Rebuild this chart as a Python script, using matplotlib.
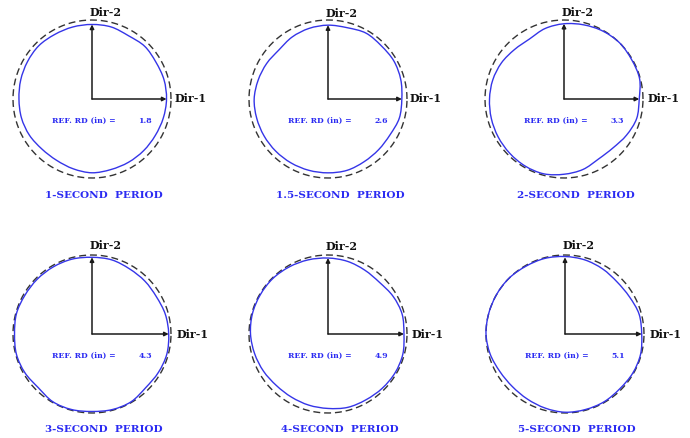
import numpy as np
import matplotlib.pyplot as plt
from matplotlib.path import Path
from matplotlib.patches import PathPatch

# response-spectrum displacement orbits, normalised by the reference RD
periods = ['1', '1.5', '2', '3', '4', '5']
ref_rd = [1.8, 2.6, 3.3, 4.3, 4.9, 5.1]
# radius of the dashed envelope circle (in units of REF. RD)
envelope = [1.06, 1.07, 1.05, 1.03, 1.04, 1.03]

angles = np.arange(0, 360, 15)
orbits = [
    [1.00, 1.00, 0.99, 1.00, 0.98, 1.00, 1.00, 1.00, 1.00, 1.01, 1.00, 0.99,
     0.98, 0.98, 0.97, 0.95, 0.95, 0.97, 0.99, 0.98, 0.98, 0.98, 0.98, 0.99],
    [1.00, 1.02, 1.03, 1.02, 1.03, 1.00, 1.00, 0.99, 0.97, 0.94, 0.96, 0.98,
     1.00, 1.00, 1.00, 1.00, 1.00, 1.00, 1.00, 1.00, 0.98, 0.97, 0.97, 1.00],
    [1.00, 1.04, 1.04, 1.05, 1.04, 1.02, 1.00, 0.97, 0.92, 0.93, 0.96, 0.98,
     0.99, 1.00, 1.01, 1.02, 1.03, 1.03, 1.00, 0.97, 0.92, 0.92, 0.96, 1.00],
    [1.00, 0.99, 0.97, 0.975, 0.98, 1.00, 1.00, 1.01, 1.01, 1.01, 1.01, 1.02,
     1.01, 1.02, 1.01, 0.99, 1.02, 1.02, 1.01, 1.02, 1.02, 0.99, 1.00, 1.01],
    [1.00, 1.01, 0.99, 0.96, 0.97, 0.99, 1.00, 1.01, 1.02, 1.03, 1.03, 1.03,
     1.02, 1.00, 0.98, 0.96, 0.96, 0.97, 0.98, 1.00, 1.00, 1.01, 1.02, 1.02],
    [1.00, 1.00, 0.97, 0.96, 0.98, 1.00, 1.01, 1.02, 1.02, 1.03, 1.03, 1.03,
     1.03, 1.01, 0.98, 0.97, 0.98, 1.00, 1.02, 1.02, 1.02, 1.01, 1.02, 1.02],
]

W, H = 690, 438
centers = [(92, 99), (328, 99), (564, 99), (92, 334), (328, 334), (565, 334)]
ENV_PX = 79  # envelope circle radius on the page, pixels
HALF = 120

BLUE = '#3535e8'
TXT_BLUE = '#2b2bf2'
serif = 'DejaVu Serif'


def closed_spline(x, y):
    # closed Catmull-Rom curve through the points, as cubic Bezier segments
    p = np.column_stack([x, y])
    n = len(p)
    verts = [p[0]]
    codes = [Path.MOVETO]
    for k in range(n):
        p0, p1, p2, p3 = p[k - 1], p[k], p[(k + 1) % n], p[(k + 2) % n]
        verts += [p1 + (p2 - p0) / 6, p2 - (p3 - p1) / 6, p2]
        codes += [Path.CURVE4] * 3
    return Path(verts, codes)


fig = plt.figure(figsize=(W / 100, H / 100), dpi=100)

for i in range(6):
    cx, cy = centers[i]
    scale = ENV_PX / envelope[i]  # pixels per REF. RD
    ax = fig.add_axes([(cx - HALF) / W, (H - cy - HALF) / H, 2 * HALF / W, 2 * HALF / H])
    lim = HALF / scale
    ax.set_xlim(-lim, lim)
    ax.set_ylim(-lim, lim)
    ax.set_aspect('equal')
    ax.axis('off')

    t = np.deg2rad(angles)
    r = np.array(orbits[i])
    orbit = closed_spline(r * np.cos(t), r * np.sin(t))
    ax.add_patch(PathPatch(orbit, fill=False, edgecolor=BLUE, lw=1.0, zorder=3))

    tt = np.linspace(0, 2 * np.pi, 300)
    ax.plot(envelope[i] * np.cos(tt), envelope[i] * np.sin(tt), color='#333333',
            lw=1.0, dashes=(5, 2.8), zorder=2)

    # direction axes
    for tip in [(1, 0), (0, 1)]:
        ax.annotate('', xy=tip, xytext=(0, 0),
                    arrowprops=dict(arrowstyle='-|>', color='#1a1a1a', lw=1.1,
                                    mutation_scale=6, shrinkA=0, shrinkB=0),
                    zorder=4)
    ax.annotate('Dir-1', xy=(1, 0), xytext=(8, 0), textcoords='offset pixels',
                ha='left', va='center', fontsize=8, family=serif, fontweight='bold',
                color='#111111')
    ax.annotate('Dir-2', xy=(0, 1), xytext=(-2, 6), textcoords='offset pixels',
                ha='left', va='bottom', fontsize=8, family=serif, fontweight='bold',
                color='#111111')

    ax.annotate('REF. RD (in) =', xy=(0, 0), xytext=(-40, -22), textcoords='offset pixels',
                ha='left', va='center', fontsize=5.6, family=serif, fontweight='bold',
                color=TXT_BLUE)
    ax.annotate(f'{ref_rd[i]}', xy=(0, 0), xytext=(60, -22), textcoords='offset pixels',
                ha='right', va='center', fontsize=5.6, family=serif, fontweight='bold',
                color=TXT_BLUE)

    ax.annotate(f'{periods[i]}-SECOND  PERIOD', xy=(0, 0), xytext=(12, -96),
                textcoords='offset pixels', ha='center', va='center', fontsize=7.5,
                family=serif, fontweight='bold', color=TXT_BLUE)

fig.savefig('out.png', dpi=100)
